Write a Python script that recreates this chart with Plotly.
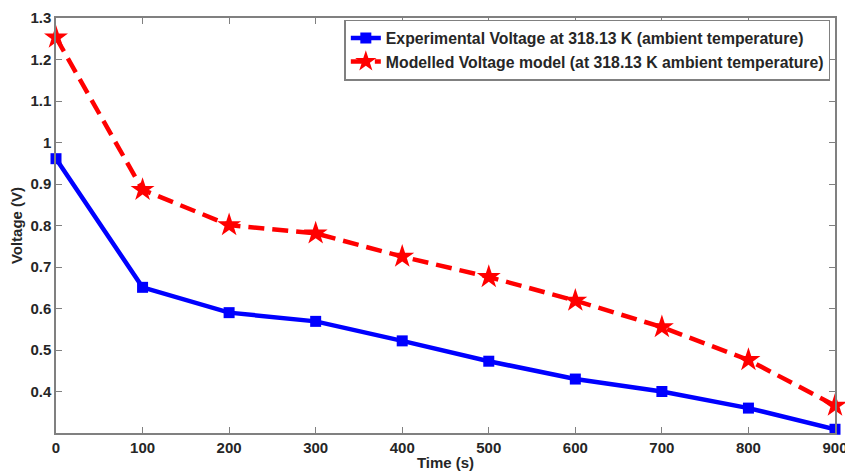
import plotly.graph_objects as go

time_s = [0, 100, 200, 300, 400, 500, 600, 700, 800, 900]
exp_voltage = [0.961, 0.651, 0.590, 0.569, 0.522, 0.473, 0.430, 0.400, 0.360, 0.309]
model_voltage = [1.253, 0.886, 0.801, 0.781, 0.725, 0.676, 0.619, 0.555, 0.476, 0.366]
x_ticks = [0, 100, 200, 300, 400, 500, 600, 700, 800, 900]
y_ticks = [0.4, 0.5, 0.6, 0.7, 0.8, 0.9, 1.0, 1.1, 1.2, 1.3]
y_ticklabels = ["0.4", "0.5", "0.6", "0.7", "0.8", "0.9", "1", "1.1", "1.2", "1.3"]

font_family = "Liberation Sans, Arial, sans-serif"

fig = go.Figure()
fig.add_trace(go.Scatter(
    x=time_s, y=exp_voltage, mode="lines+markers",
    name="Experimental Voltage at 318.13 K (ambient temperature)",
    line=dict(color="#0000ff", width=4.5),
    marker=dict(symbol="square", size=11, color="#0000ff"),
    cliponaxis=False,
))
fig.add_trace(go.Scatter(
    x=time_s, y=model_voltage, mode="lines+markers",
    name="Modelled Voltage model (at 318.13 K ambient temperature)",
    line=dict(color="#ff0000", width=4.5, dash="16px,8px"),
    marker=dict(symbol="star", size=18, color="#ff0000"),
    cliponaxis=False,
))

axis_common = dict(
    showline=True, linecolor="#808080", linewidth=1.5, mirror="ticks",
    ticks="inside", ticklen=6, tickcolor="#808080", tickwidth=1.2,
    showgrid=False, zeroline=False, automargin=False,
    ticklabeloverflow="allow",
    tickfont=dict(family=font_family, size=15, color="#262626", weight=700),
)

fig.update_layout(
    width=845, height=473,
    margin=dict(l=56, r=10, t=18, b=40),
    paper_bgcolor="white", plot_bgcolor="white",
    font=dict(family=font_family, color="#262626"),
    xaxis=dict(range=[0, 900], tickvals=x_ticks,
               title=dict(text="Time (s)", font=dict(family=font_family, size=15, weight=700), standoff=3),
               **axis_common),
    yaxis=dict(range=[0.3, 1.3], tickvals=y_ticks, ticktext=y_ticklabels,
               title=dict(text="Voltage (V)", font=dict(family=font_family, size=15, weight=700), standoff=4),
               **axis_common),
    legend=dict(x=0.994, y=0.996, xanchor="right", yanchor="top",
                bgcolor="white", bordercolor="#808080", borderwidth=1.5,
                font=dict(family=font_family, size=15.8, color="#262626", weight=700),
                itemwidth=30, tracegroupgap=0),
    showlegend=True,
)

fig.write_html("out.html", config={"displayModeBar": False},
               post_script="document.body.style.margin='0';document.body.style.overflow='hidden';")
